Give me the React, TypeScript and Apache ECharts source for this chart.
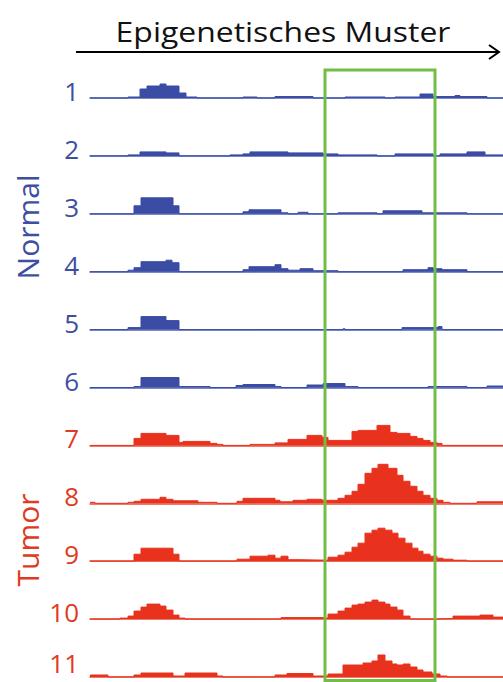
import React, { useEffect, useRef } from "react";
import * as echarts from "echarts";

// Each track: change points [genomic position, signal] — signal holds until next point
const track1: [number, number][] = [[0,0],[38,1],[50,9],[57,12],[70,14],[76,12],[89,5],[96,1],[107,0],[153,1],[167,0],[185,1.5],[223,0],[255,1],[295,0],[305,1],[330,4],[343,1.5],[365,2.5],[370,1.5],[397,0],[413,0]];
const track2: [number, number][] = [[0,0],[38,1],[50,4],[76,3],[89,0],[140,1],[153,2],[160,4],[198,3],[233,2],[248,1],[287,0],[305,2],[343,0],[350,2],[377,4],[395,1],[413,1]];
const track3: [number, number][] = [[0,0],[44,8],[51,16],[83,8],[89,0],[153,2],[159,4],[191,1],[198,0],[208,1.5],[218,0],[248,1],[287,0],[293,3],[332,1],[377,0],[413,0]];
const track4: [number, number][] = [[0,0],[38,1.5],[44,4],[51,10],[76,11.5],[82,9],[89,0],[153,2],[159,5],[185,7],[191,3],[198,1.5],[210,3],[223,1],[248,0],[313,2],[338,4],[343,3],[352,2],[377,0],[413,0]];
const track5: [number, number][] = [[0,0],[38,2],[51,13],[76,9],[89,0],[253,0.8],[255,0],[312,2],[348,3],[352,0],[413,0]];
const track6: [number, number][] = [[0,0],[44,1],[51,10],[89,1],[120,0],[146,2],[153,3],[185,1],[191,0],[217,2.5],[233,4],[255,1],[268,0],[338,1],[377,0],[397,1.5],[413,1.5]];
const track7: [number, number][] = [[0,0],[44,7],[51,12],[76,10],[89,3],[93,4],[120,2],[127,1],[133,0],[160,1],[185,2.5],[198,6],[217,10],[232,8],[238,5],[262,14],[268,15],[287,20],[300,13],[307,12],[320,9],[327,7],[333,5],[340,3],[347,2],[352,0],[413,0]];
const track8: [number, number][] = [[0,1],[5,0],[38,1],[44,2],[51,4],[70,6],[76,4],[83,2.5],[108,1],[127,0],[147,2],[153,5],[185,3],[190,1.5],[203,3],[217,4],[232,3],[248,5],[255,8],[262,12],[268,19],[275,30],[282,35],[288,39],[298,35],[307,28],[313,22],[320,17],[327,12],[333,8],[340,5],[347,3],[353,1],[360,0],[387,1.5],[413,1.5]];
const track9: [number, number][] = [[0,0],[44,7],[51,13],[83,7],[89,0],[147,2],[160,5],[178,6],[185,3],[191,5],[198,1.5],[210,1],[238,4],[248,6],[255,9],[262,14],[268,18],[275,28],[282,31],[288,33],[295,31],[302,28],[308,23],[315,18],[322,13],[328,10],[333,7],[340,5],[347,3],[353,2],[363,1],[377,0],[413,0]];
const track10: [number, number][] = [[0,0],[30,1],[38,3],[44,8],[51,12],[57,15],[70,13],[76,9],[83,4],[89,1],[95,0],[191,1.5],[232,1],[238,5],[248,8],[255,11],[262,14],[268,15],[275,17],[282,19],[288,17],[295,15],[300,12],[307,9],[313,3],[320,0],[347,0.5],[363,3],[390,4],[403,2],[413,2]];
const track11: [number, number][] = [[0,2],[18,0],[44,2],[51,4],[83,1],[95,4],[127,1],[133,0],[185,2],[197,3.5],[223,1],[238,3],[253,12],[273,14],[282,16],[288,22],[295,16],[302,13],[307,12],[313,13],[320,10],[327,7],[333,5],[342,3],[350,1],[357,0],[413,0]];

const tracks = [track1, track2, track3, track4, track5, track6, track7, track8, track9, track10, track11];
const sampleLabels = ["1", "2", "3", "4", "5", "6", "7", "8", "9", "10", "11"];
const sampleGroups = ["Normal", "Normal", "Normal", "Normal", "Normal", "Normal", "Tumor", "Tumor", "Tumor", "Tumor", "Tumor"];
const groupNames = ["Normal", "Tumor"];
const titleText = "Epigenetisches Muster";
const regionStart = 235; // highlighted region (genomic position)
const regionEnd = 345;
const positionMax = 413;

const BLUE = "#3b4ca5";
const BLUE_LINE = "#5262b3";
const BLUE_TEXT = "#3e4f9f";
const RED = "#e8321e";
const RED_LINE = "#e8503c";
const RED_TEXT = "#e03a24";
const GREEN = "#72bd45";

export default function App() {
  const ref = useRef<HTMLDivElement>(null);
  useEffect(() => {
    if (!ref.current) return;
    const chart = echarts.init(ref.current, undefined, { renderer: "svg" });
    const W = 503;
    const left = 90;
    const trackH = 44;
    const base0 = 98;
    const step = 57.9;
    const baseY = (i: number) => base0 + i * step;
    const scaleX = (W - left) / positionMax;

    const grid: any[] = [];
    const xAxis: any[] = [];
    const yAxis: any[] = [];
    const series: any[] = [];
    const graphic: any[] = [];

    tracks.forEach((t, i) => {
      const tumor = sampleGroups[i] === "Tumor";
      const fill = tumor ? RED : BLUE;
      grid.push({ left, right: 0, top: baseY(i) - trackH, height: trackH });
      xAxis.push({
        type: "value", gridIndex: i, min: 0, max: positionMax,
        axisLine: { show: true, lineStyle: { color: tumor ? RED_LINE : BLUE_LINE, width: 1.5 } },
        axisTick: { show: false }, axisLabel: { show: false }, splitLine: { show: false },
      });
      yAxis.push({
        type: "value", gridIndex: i, min: 0, max: trackH, show: false,
        splitLine: { show: false },
      });
      series.push({
        type: "line", xAxisIndex: i, yAxisIndex: i, data: t, step: "end",
        symbol: "none", showSymbol: false, silent: true, clip: false,
        lineStyle: { width: 1, color: fill }, itemStyle: { color: fill },
        areaStyle: { color: fill, opacity: 1 },
      });
      graphic.push({
        type: "text", x: 79, y: Math.min(baseY(i) - 7, 663),
        style: {
          text: sampleLabels[i], fill: tumor ? RED_TEXT : BLUE_TEXT,
          font: '26px "Open Sans"', lineHeight: 24, textAlign: "right", textVerticalAlign: "middle",
        },
      });
    });

    // group labels
    const groupCenters = [227, 540];
    groupNames.forEach((g, k) => {
      graphic.push({
        type: "text", x: 27, y: groupCenters[k], rotation: Math.PI / 2,
        style: {
          text: g, fill: k === 0 ? BLUE_TEXT : RED_TEXT,
          font: '30px "Open Sans"', textAlign: "center", textVerticalAlign: "middle",
        },
      });
    });

    // title + arrow
    graphic.push({
      type: "text", x: 283, y: 31, scaleX: 1.14,
      style: { text: titleText, fill: "#111", font: '28px "Open Sans"', textAlign: "center", textVerticalAlign: "middle" },
    });
    graphic.push({ type: "line", shape: { x1: 76, y1: 52, x2: 499, y2: 52 }, style: { stroke: "#000", lineWidth: 2 } });
    graphic.push({ type: "polyline", shape: { points: [[489, 45], [499, 52], [489, 59]] }, style: { stroke: "#000", lineWidth: 2, fill: null } });

    // highlighted region
    const rx1 = left + regionStart * scaleX;
    const rx2 = left + regionEnd * scaleX;
    graphic.push({
      type: "rect", z: 100,
      shape: { x: rx1, y: 70, width: rx2 - rx1, height: 610.5 },
      style: { stroke: GREEN, lineWidth: 3, fill: null },
    });

    chart.setOption({ animation: false, backgroundColor: "#fff", grid, xAxis, yAxis, series, graphic });
    return () => chart.dispose();
  }, []);
  return <div ref={ref} style={{ position: "absolute", left: 0, top: 0, width: 503, height: 682 }} />;
}
